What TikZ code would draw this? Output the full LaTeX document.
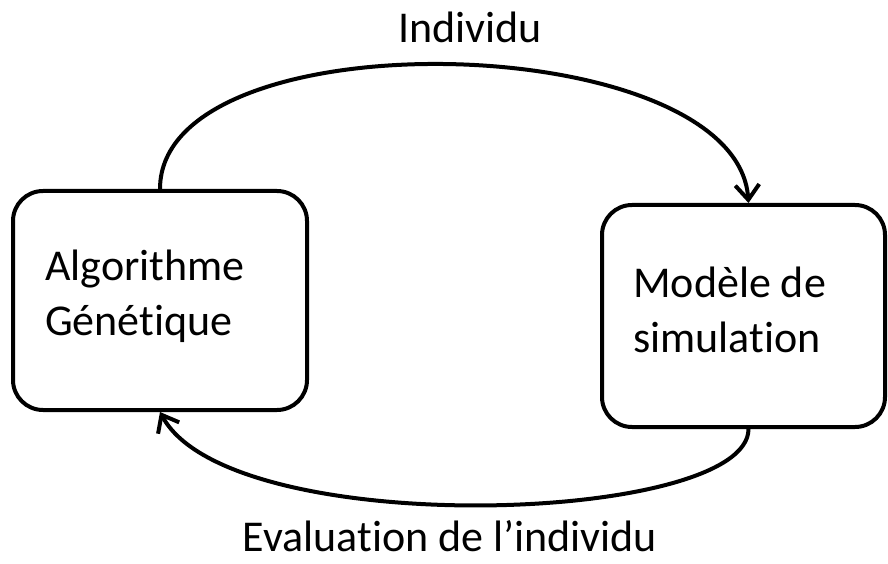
\documentclass[tikz,border=0pt]{standalone}
\usepackage{fontspec}
\setmainfont{Carlito}[Ligatures={NoCommon,NoContextual}]
\usetikzlibrary{arrows.meta}
\begin{document}
\begin{tikzpicture}[x=1pt,y=1pt,
  box/.style={draw=black, line width=4pt, rounded corners=30pt, inner sep=0pt},
  lbl/.style={inner sep=0pt, font=\fontsize{44}{54}\selectfont},
  conn/.style={line width=4pt, -{Straight Barb[length=15pt,width=24pt]}}]
\useasboundingbox (0,0) rectangle (888,563);
\fill[white] (0,0) rectangle (888,563);
\node[box, minimum width=294pt, minimum height=219pt] (A) at (160,262.5) {};
\node[box, minimum width=283pt, minimum height=222pt] (M) at (743.5,247) {};
\node[lbl, anchor=base west] (a1) at (45,283) {Algorithme};
\node[lbl, anchor=base west] (a2) at (45,228) {Génétique};
\node[lbl, anchor=base west] (m1) at (633,266) {Modèle de};
\node[lbl, anchor=base west] (m2) at (633,211) {simulation};
\node[lbl, anchor=base] (top) at (470,520) {Individu};
\node[lbl, anchor=base] (bot) at (450,12) {Evaluation de l’individu};
\draw[conn] (A.north) .. controls +(0,175) and +(-12,175) .. ([xshift=5pt]M.north);
\draw[conn] ([xshift=5pt]M.south) .. controls +(0,-95) and +(70,-130) .. (A.south);
\end{tikzpicture}
\end{document}
